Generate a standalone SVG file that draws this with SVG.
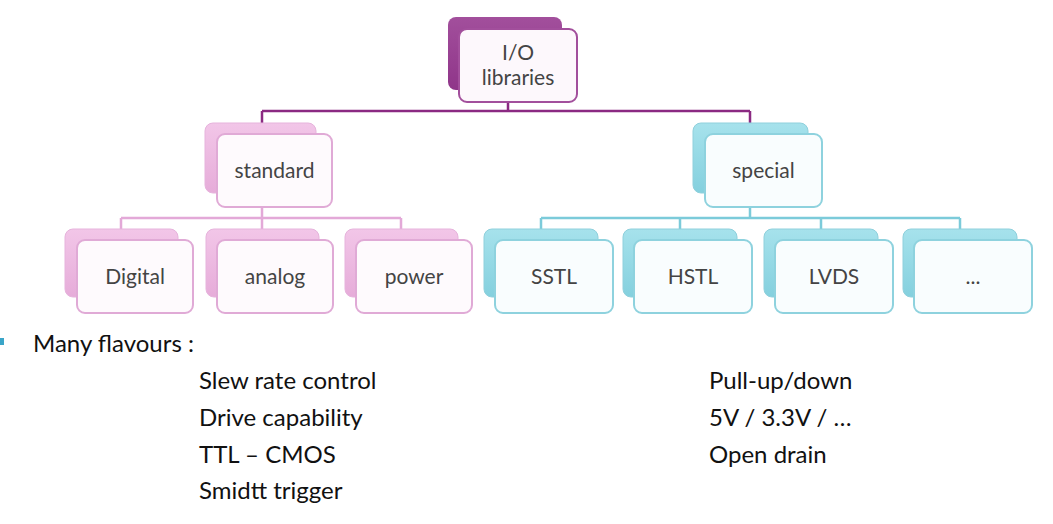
<svg xmlns="http://www.w3.org/2000/svg" width="1053" height="524" viewBox="0 0 1053 524">
<defs>
<linearGradient id="gP" x1="0" y1="0" x2="0" y2="1"><stop offset="0" stop-color="#a24f9c"/><stop offset="1" stop-color="#8f3589"/></linearGradient>
<linearGradient id="gK" x1="0" y1="0" x2="0" y2="1"><stop offset="0" stop-color="#f2c6e8"/><stop offset="1" stop-color="#e6acd9"/></linearGradient>
<linearGradient id="gC" x1="0" y1="0" x2="0" y2="1"><stop offset="0" stop-color="#a6e2ec"/><stop offset="1" stop-color="#84d0de"/></linearGradient>
</defs>
<style>
.t{font-family:"Lato","Open Sans",sans-serif;fill:#444;font-size:21px;text-anchor:middle}
.b{font-family:"Lato","Open Sans",sans-serif;fill:#111;font-size:24px}
.fp{fill:#fdf8fc;stroke:#a24f9c;stroke-width:2}
.fk{fill:#fefafd;stroke:#e0aad6;stroke-width:2}
.fc{fill:#f9fdfe;stroke:#8ed2de;stroke-width:2}
.bk{fill:url(#gK);stroke:#e6b3dc;stroke-width:1}
.bc{fill:url(#gC);stroke:#8fd0dc;stroke-width:1}
.lp{fill:none;stroke:#8b2a82;stroke-width:2.5}
.lk{fill:none;stroke:#e3a9d8;stroke-width:2.5}
.lc{fill:none;stroke:#7ccbda;stroke-width:2.5}
</style>
<g id="connectors">
<path class="lp" d="M508 100V111M262 111H750M262 111V124M750 111V124"/>
<path class="lk" d="M262 206V218M121 218H401M121 218V229M262 218V229M401 218V229"/>
<path class="lc" d="M750 206V218M541 218H960M541 218V229M680 218V229M821 218V229M960 218V229"/>
</g>
<g id="io">
<rect x="448" y="17" width="114" height="73" rx="8" fill="url(#gP)"/>
<rect class="fp" x="459" y="29" width="118" height="73" rx="8"/>
<text class="t" x="518" y="60">I/O</text>
<text class="t" x="518" y="85">libraries</text>
</g>
<g id="standard">
<rect class="bk" x="205" y="123" width="111" height="70" rx="8"/>
<rect class="fk" x="217" y="134" width="115" height="73" rx="8"/>
<text class="t" x="274.5" y="178">standard</text>
</g>
<g id="special">
<rect class="bc" x="693" y="123" width="115" height="70" rx="8"/>
<rect class="fc" x="705" y="134" width="117" height="73" rx="8"/>
<text class="t" x="763.5" y="178">special</text>
</g>
<g id="digital">
<rect class="bk" x="65" y="229" width="113" height="68" rx="8"/>
<rect class="fk" x="77" y="240" width="116" height="73" rx="8"/>
<text class="t" x="135" y="284">Digital</text>
</g>
<g id="analog">
<rect class="bk" x="206" y="229" width="113" height="68" rx="8"/>
<rect class="fk" x="217" y="240" width="116" height="73" rx="8"/>
<text class="t" x="275" y="284">analog</text>
</g>
<g id="power">
<rect class="bk" x="345" y="229" width="113" height="68" rx="8"/>
<rect class="fk" x="356" y="240" width="116" height="73" rx="8"/>
<text class="t" x="414" y="284">power</text>
</g>
<g id="sstl">
<rect class="bc" x="484" y="229" width="114" height="68" rx="8"/>
<rect class="fc" x="495" y="240" width="118" height="73" rx="8"/>
<text class="t" x="554" y="284">SSTL</text>
</g>
<g id="hstl">
<rect class="bc" x="623" y="229" width="114" height="68" rx="8"/>
<rect class="fc" x="634" y="240" width="118" height="73" rx="8"/>
<text class="t" x="693" y="284">HSTL</text>
</g>
<g id="lvds">
<rect class="bc" x="764" y="229" width="114" height="68" rx="8"/>
<rect class="fc" x="775" y="240" width="118" height="73" rx="8"/>
<text class="t" x="834" y="284">LVDS</text>
</g>
<g id="more">
<rect class="bc" x="903" y="229" width="114" height="68" rx="8"/>
<rect class="fc" x="914" y="240" width="118" height="73" rx="8"/>
<text class="t" x="973" y="284">...</text>
</g>
<g id="text">
<rect x="0" y="338" width="4" height="7" fill="#3aa5c8"/>
<text class="b" x="33" y="352" font-size="27">Many flavours :</text>
<text class="b" x="199" y="389">Slew rate control</text>
<text class="b" x="199" y="426">Drive capability</text>
<text class="b" x="199" y="463">TTL – CMOS</text>
<text class="b" x="199" y="499">Smidtt trigger</text>
<text class="b" x="709" y="389">Pull-up/down</text>
<text class="b" x="709" y="426">5V / 3.3V / …</text>
<text class="b" x="709" y="463">Open drain</text>
</g>
</svg>
